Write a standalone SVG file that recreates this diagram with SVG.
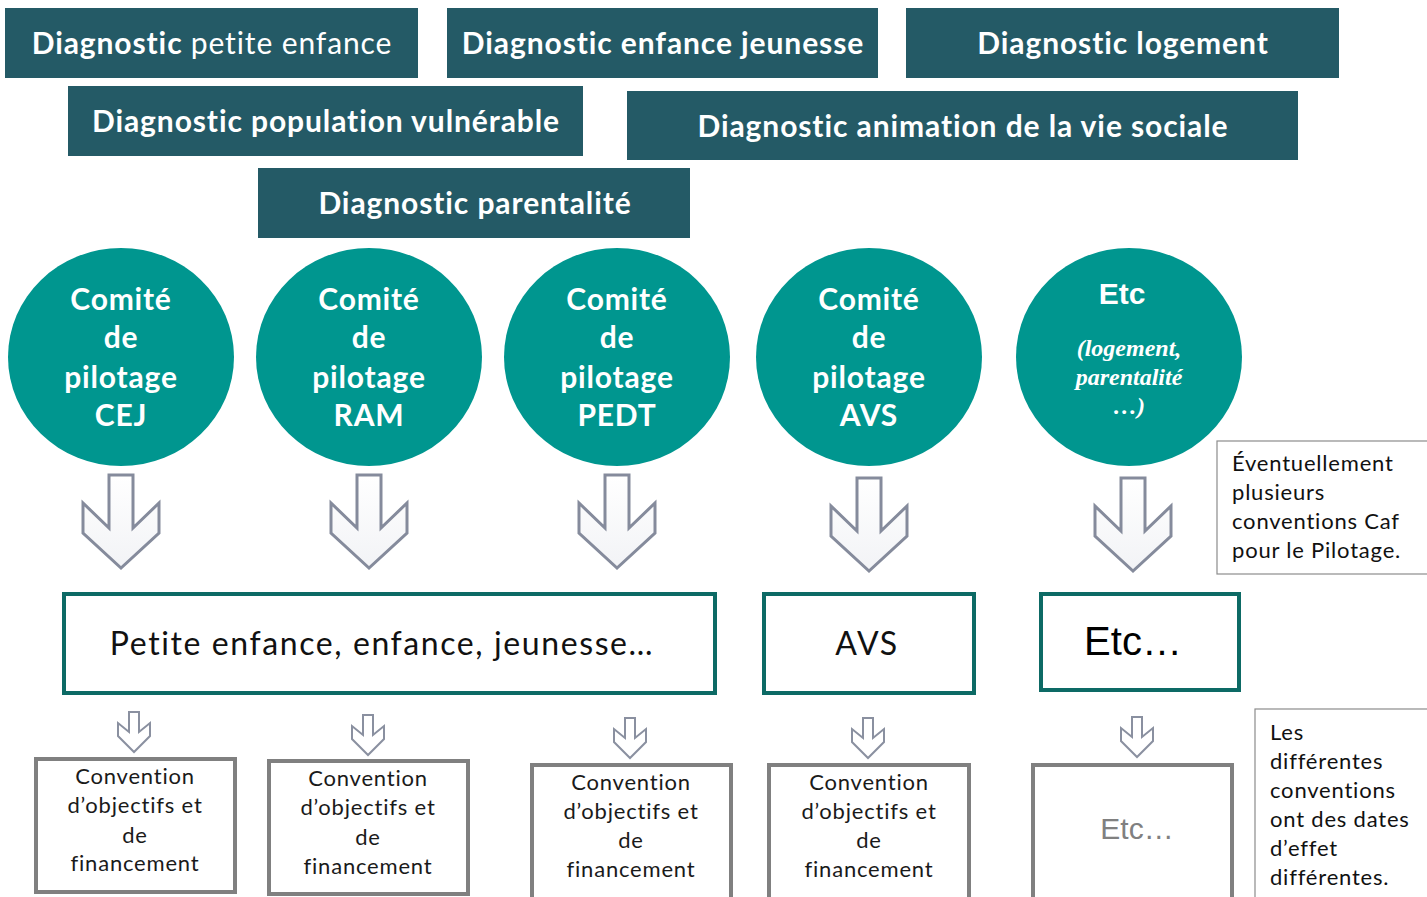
<svg xmlns="http://www.w3.org/2000/svg" width="1427" height="897" viewBox="0 0 1427 897">
<style>
text{font-variant-ligatures:none;}
.diag rect{fill:#245a66;}
.diag text{font-family:Lato,"Open Sans",sans-serif;font-size:30px;font-weight:bold;fill:#ffffff;text-anchor:middle;letter-spacing:0.9px;}
.thin{font-weight:normal;}
.circ ellipse{fill:#00968f;}
.circ text{font-family:Lato,"Open Sans",sans-serif;font-size:30px;font-weight:bold;fill:#ffffff;text-anchor:middle;letter-spacing:0.8px;}
.etc1{font-family:"Liberation Sans",Arial,sans-serif !important;letter-spacing:0 !important;}
.etci{font-family:"Liberation Serif",serif !important;font-style:italic;font-weight:bold;font-size:24px !important;letter-spacing:0 !important;}
.mid rect{fill:#ffffff;stroke:#0d6a65;stroke-width:4;}
.mid text{font-family:Lato,"Open Sans",sans-serif;font-size:32px;fill:#111111;text-anchor:middle;letter-spacing:1.6px;}
.conv rect{fill:#ffffff;stroke:#808080;stroke-width:4;}
.conv text{font-family:Lato,"Open Sans",sans-serif;font-size:22px;fill:#1a1a1a;text-anchor:middle;letter-spacing:0.8px;}
.note rect{fill:#ffffff;stroke:#8c8c8c;stroke-width:1.2;}
.note text{font-family:Lato,"Open Sans",sans-serif;font-size:22px;fill:#111111;letter-spacing:0.8px;}
.arr{fill:url(#ag);stroke:#858b9c;stroke-width:3;stroke-linejoin:miter;}
.sarr{fill:#ffffff;stroke:#8a90a0;stroke-width:2;}
</style>
<defs>
<linearGradient id="ag" x1="0" y1="0" x2="0" y2="1">
<stop offset="0" stop-color="#ffffff"/>
<stop offset="1" stop-color="#f2f3f6"/>
</linearGradient>
<polygon id="bigArrow" points="-12,0 12,0 12,53 38,28 38,58 0,93 -38,58 -38,28 -12,53"/>
<polygon id="smallArrow" points="-5,0 5,0 5,20 16,11 16,24 0,40 -16,24 -16,11 -5,20"/>
</defs>
<rect width="1427" height="897" fill="#ffffff"/>

<g id="diag-petite-enfance" class="diag"><rect x="5" y="8" width="413" height="70"/><text x="212" y="54">Diagnostic <tspan class="thin">petite enfance</tspan></text></g>
<g id="diag-enfance-jeunesse" class="diag"><rect x="447" y="8" width="431" height="70"/><text x="663" y="54">Diagnostic enfance jeunesse</text></g>
<g id="diag-logement" class="diag"><rect x="906" y="8" width="433" height="70"/><text x="1123" y="54">Diagnostic logement</text></g>
<g id="diag-population" class="diag"><rect x="68" y="86" width="515" height="70"/><text x="326" y="132">Diagnostic population vulnérable</text></g>
<g id="diag-avs" class="diag"><rect x="627" y="91" width="671" height="69"/><text x="963" y="137">Diagnostic animation de la vie sociale</text></g>
<g id="diag-parentalite" class="diag"><rect x="258" y="168" width="432" height="70"/><text x="475" y="214">Diagnostic parentalité</text></g>

<g id="comite-cej" class="circ"><ellipse cx="121" cy="357" rx="113" ry="109"/><text x="121" y="310">Comité</text><text x="121" y="348">de</text><text x="121" y="388">pilotage</text><text x="121" y="426">CEJ</text></g>
<g id="comite-ram" class="circ"><ellipse cx="369" cy="357" rx="113" ry="109"/><text x="369" y="310">Comité</text><text x="369" y="348">de</text><text x="369" y="388">pilotage</text><text x="369" y="426">RAM</text></g>
<g id="comite-pedt" class="circ"><ellipse cx="617" cy="357" rx="113" ry="109"/><text x="617" y="310">Comité</text><text x="617" y="348">de</text><text x="617" y="388">pilotage</text><text x="617" y="426">PEDT</text></g>
<g id="comite-avs" class="circ"><ellipse cx="869" cy="357" rx="113" ry="109"/><text x="869" y="310">Comité</text><text x="869" y="348">de</text><text x="869" y="388">pilotage</text><text x="869" y="426">AVS</text></g>
<g id="comite-etc" class="circ"><ellipse cx="1129" cy="357" rx="113" ry="109"/><text class="etc1" x="1122" y="304">Etc</text><text class="etci" x="1129" y="356">(logement,</text><text class="etci" x="1129" y="385">parentalité</text><text class="etci" x="1129" y="414">…)</text></g>

<g id="note-pilotage" class="note"><rect x="1217" y="441" width="212" height="133"/><text x="1232" y="471">Éventuellement</text><text x="1232" y="500">plusieurs</text><text x="1232" y="529">conventions Caf</text><text x="1232" y="558">pour le Pilotage.</text></g>

<g id="connectors">
<use href="#bigArrow" class="arr" x="121" y="475"/>
<use href="#bigArrow" class="arr" x="369" y="475"/>
<use href="#bigArrow" class="arr" x="617" y="475"/>
<use href="#bigArrow" class="arr" x="869" y="478"/>
<use href="#bigArrow" class="arr" x="1133" y="478"/>
<use href="#smallArrow" class="sarr" x="134" y="712"/>
<use href="#smallArrow" class="sarr" x="368" y="715"/>
<use href="#smallArrow" class="sarr" x="630" y="718"/>
<use href="#smallArrow" class="sarr" x="868" y="718"/>
<use href="#smallArrow" class="sarr" x="1137" y="717"/>
</g>

<g id="box-petite-enfance" class="mid"><rect x="64" y="594" width="651" height="99"/><text x="382" y="655">Petite enfance, enfance, jeunesse…</text></g>
<g id="box-avs" class="mid"><rect x="764" y="594" width="210" height="99"/><text x="867" y="655">AVS</text></g>
<g id="box-etc" class="mid"><rect x="1041" y="594" width="198" height="96"/><text x="1133" y="655" style="font-family:'Liberation Sans',Arial,sans-serif;font-size:40px;fill:#000;letter-spacing:0">Etc…</text></g>

<g id="conv-1" class="conv"><rect x="36" y="759" width="199" height="133"/><text x="135" y="784">Convention</text><text x="135" y="813">d’objectifs et</text><text x="135" y="843">de</text><text x="135" y="871">financement</text></g>
<g id="conv-2" class="conv"><rect x="269" y="761" width="199" height="133"/><text x="368" y="786">Convention</text><text x="368" y="815">d’objectifs et</text><text x="368" y="845">de</text><text x="368" y="874">financement</text></g>
<g id="conv-3" class="conv"><rect x="532" y="765" width="199" height="134"/><text x="631" y="790">Convention</text><text x="631" y="819">d’objectifs et</text><text x="631" y="848">de</text><text x="631" y="877">financement</text></g>
<g id="conv-4" class="conv"><rect x="769" y="765" width="200" height="134"/><text x="869" y="790">Convention</text><text x="869" y="819">d’objectifs et</text><text x="869" y="848">de</text><text x="869" y="877">financement</text></g>
<g id="conv-etc" class="conv"><rect x="1033" y="765" width="199" height="134"/><text x="1137" y="839" style="font-family:'Liberation Sans',Arial,sans-serif;font-size:30px;fill:#808080;letter-spacing:0">Etc…</text></g>

<g id="note-dates" class="note"><rect x="1255" y="709" width="174" height="192"/><text x="1270" y="740">Les</text><text x="1270" y="769">différentes</text><text x="1270" y="798">conventions</text><text x="1270" y="827">ont des dates</text><text x="1270" y="856">d’effet</text><text x="1270" y="885">différentes.</text></g>
</svg>
